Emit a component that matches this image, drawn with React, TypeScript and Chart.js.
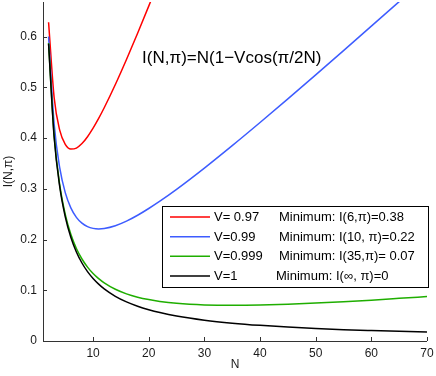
import React, { useEffect, useRef } from "react";
import { Chart, registerables } from "chart.js";

Chart.register(...registerables);

const N_VALUES = [2, 3, 4, 5, 6, 7, 8, 9, 10, 11, 12, 14, 16, 18, 20, 22, 25, 30, 35, 40, 45, 50, 55, 60, 65, 70];
const V097 = [0.6282, 0.4798, 0.4154, 0.3874, 0.3783, 0.3802, 0.3891, 0.4026, 0.4194, 0.4386, 0.4596, 0.5054, 0.5547, 0.6065, 0.6599, 0.7144, null, null, null, null, null, null, null, null, null, null];
const V099 = [0.5999, 0.4279, 0.3415, 0.2923, 0.2624, 0.2437, 0.2322, 0.2253, 0.2219, 0.2209, 0.2217, 0.2271, 0.2362, 0.2478, 0.2611, 0.2755, 0.2988, 0.3407, 0.3849, 0.4305, 0.4771, 0.5244, 0.5722, 0.6204, 0.6688, 0.7174];
const V0999 = [0.5872, 0.4045, 0.3082, 0.2495, 0.2102, 0.1823, 0.1616, 0.1456, 0.1330, 0.1229, 0.1146, 0.1019, 0.0929, 0.0864, 0.0816, 0.0780, 0.0743, 0.0711, 0.0702, 0.0708, 0.0724, 0.0747, 0.0774, 0.0805, 0.0840, 0.0876];
const V1 = [0.5858, 0.4019, 0.3045, 0.2447, 0.2044, 0.1755, 0.1537, 0.1367, 0.1231, 0.1120, 0.1027, 0.0880, 0.0770, 0.0685, 0.0617, 0.0561, 0.0493, 0.0411, 0.0352, 0.0308, 0.0274, 0.0247, 0.0224, 0.0206, 0.0190, 0.0176];

const SERIES_LABELS = ["V= 0.97", "V=0.99", "V=0.999", "V=1"];
const MINIMA_LABELS = ["Minimum: I(6,\u03c0)=0.38", "Minimum: I(10, \u03c0)=0.22", "Minimum: I(35,\u03c0)= 0.07", "Minimum: I(\u221e, \u03c0)=0"];
const COLORS = ["#ff0000", "#3d5cff", "#1fae00", "#000000"];
const X_TICKS = [10, 20, 30, 40, 50, 60, 70];
const Y_TICKS = [0, 0.1, 0.2, 0.3, 0.4, 0.5, 0.6];
const FORMULA = "I(N,\u03c0)=N(1\u2212Vcos(\u03c0/2N)";
const X_TITLE = "N";
const Y_TITLE = "I(N,\u03c0)";

const FONT = "'Liberation Sans', Arial, Helvetica, sans-serif";

const toPoints = (ys: (number | null)[]) => N_VALUES.map((n, i) => ({ x: n, y: ys[i] }));

const overlayPlugin = {
  id: "overlay",
  afterDatasetsDraw(chart: any) {
    const { ctx, chartArea, scales } = chart;
    const xs = scales.x;
    const ys = scales.y;
    ctx.save();
    ctx.strokeStyle = "#333333";
    ctx.lineWidth = 1;
    ctx.beginPath();
    ctx.moveTo(Math.round(chartArea.left) + 0.5, chartArea.top);
    ctx.lineTo(Math.round(chartArea.left) + 0.5, Math.round(chartArea.bottom) + 0.5);
    ctx.lineTo(chartArea.right, Math.round(chartArea.bottom) + 0.5);
    ctx.stroke();
    ctx.beginPath();
    X_TICKS.forEach((t) => {
      const px = Math.round(xs.getPixelForValue(t)) + 0.5;
      ctx.moveTo(px, chartArea.bottom);
      ctx.lineTo(px, chartArea.bottom - 4);
    });
    Y_TICKS.forEach((t) => {
      const py = Math.round(ys.getPixelForValue(t)) + 0.5;
      ctx.moveTo(chartArea.left, py);
      ctx.lineTo(chartArea.left + 4, py);
    });
    ctx.stroke();

    ctx.fillStyle = "#000";
    ctx.font = `17px ${FONT}`;
    ctx.textBaseline = "alphabetic";
    ctx.textAlign = "left";
    ctx.fillText(FORMULA, xs.getPixelForValue(18.8), ys.getPixelForValue(0.548));

    const bx = 162.5, by = 206.5, bw = 266, bh = 81;
    ctx.fillStyle = "#ffffff";
    ctx.fillRect(bx, by, bw, bh);
    ctx.strokeStyle = "#000000";
    ctx.lineWidth = 1;
    ctx.strokeRect(bx, by, bw, bh);
    ctx.font = `13px ${FONT}`;
    ctx.textBaseline = "middle";
    const rowY = [217, 236.7, 256.3, 276];
    SERIES_LABELS.forEach((lab, i) => {
      const y = rowY[i];
      ctx.strokeStyle = COLORS[i];
      ctx.lineWidth = 1.5;
      ctx.beginPath();
      ctx.moveTo(170, y);
      ctx.lineTo(210, y);
      ctx.stroke();
      ctx.fillStyle = "#000";
      ctx.fillText(lab, 214, y + 0.5);
      ctx.fillText(MINIMA_LABELS[i], i === 3 ? 276 : 279, y + 0.5);
    });
    ctx.restore();
  },
};

export default function App() {
  const ref = useRef<HTMLCanvasElement>(null);
  useEffect(() => {
    document.body.style.margin = "0";
    const ctx = ref.current!;
    const datasets = [V097, V099, V0999, V1].map((vals, i) => ({
      label: SERIES_LABELS[i],
      data: toPoints(vals),
      borderColor: COLORS[i],
      backgroundColor: COLORS[i],
      borderWidth: 1.5,
      pointRadius: 0,
      fill: false,
      cubicInterpolationMode: "monotone" as const,
      spanGaps: false,
      order: 3 - i,
    }));
    const chart = new Chart(ctx, {
      type: "line",
      data: { datasets },
      options: {
        animation: false,
        responsive: false,
        devicePixelRatio: 1,
        parsing: false as any,
        layout: { padding: { top: 2, right: 9, bottom: 0, left: 0 } },
        plugins: {
          legend: { display: false },
          tooltip: { enabled: false },
        },
        scales: {
          x: {
            type: "linear",
            min: 1,
            max: 70,
            afterBuildTicks: (s: any) => {
              s.ticks = X_TICKS.map((v) => ({ value: v }));
            },
            afterFit: (s: any) => {
              s.height = 35;
              s.paddingLeft = 0;
              s.paddingRight = 0;
            },
            grid: { display: false, drawTicks: false },
            border: { display: false },
            ticks: {
              padding: 5,
              color: "#1a1a1a",
              font: { family: FONT, size: 12 },
              maxRotation: 0,
            },
            title: {
              display: true,
              text: X_TITLE,
              color: "#1a1a1a",
              font: { family: FONT, size: 12 },
              padding: { top: 0, bottom: 4 },
            },
          },
          y: {
            type: "linear",
            min: 0,
            max: 0.668,
            afterBuildTicks: (s: any) => {
              s.ticks = Y_TICKS.map((v) => ({ value: v }));
            },
            afterFit: (s: any) => {
              s.width = 43;
              s.paddingTop = 0;
              s.paddingBottom = 0;
            },
            grid: { display: false, drawTicks: false },
            border: { display: false },
            ticks: {
              padding: 6,
              color: "#1a1a1a",
              font: { family: FONT, size: 12 },
              callback: (v: any) => (v === 0 ? "0" : Number(v).toFixed(1)),
            },
            title: {
              display: true,
              text: Y_TITLE,
              color: "#1a1a1a",
              font: { family: FONT, size: 12 },
              padding: { top: 1, bottom: 0 },
            },
          },
        },
      },
      plugins: [overlayPlugin],
    });
    return () => chart.destroy();
  }, []);
  return (
    <div style={{ position: "absolute", left: 0, top: 0, width: 436, height: 376, background: "#fff" }}>
      <canvas ref={ref} width={436} height={376} />
    </div>
  );
}
